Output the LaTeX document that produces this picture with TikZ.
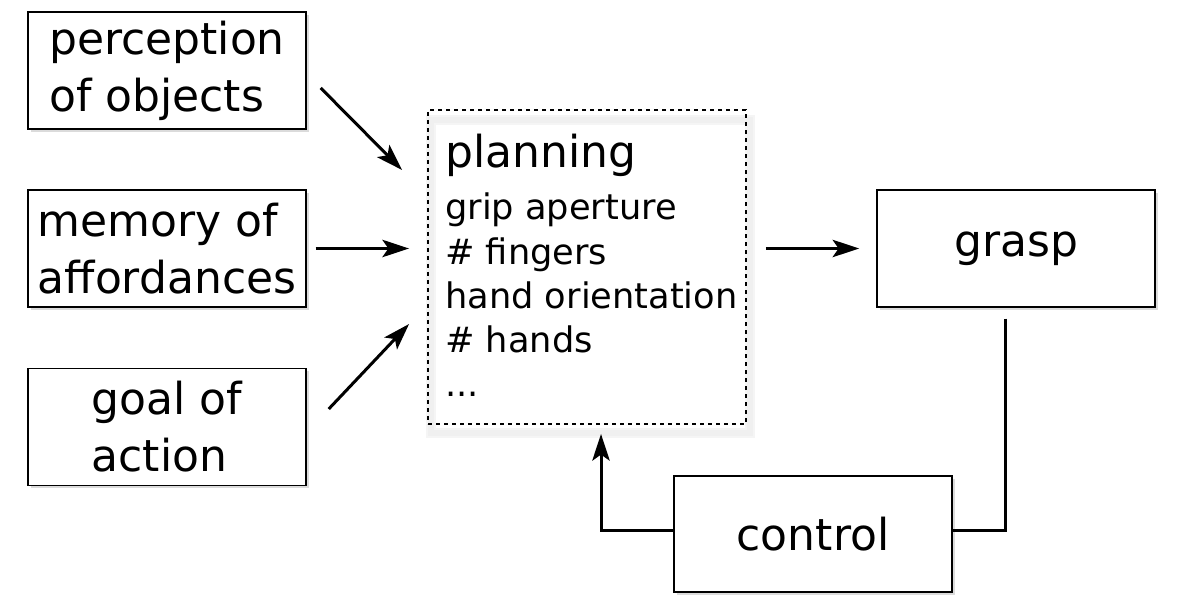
\documentclass[tikz,border=0pt]{standalone}
\usepackage{fontspec}
\setmainfont{DejaVu Sans}
\usetikzlibrary{arrows.meta,calc,shadows}
\begin{document}
\begin{tikzpicture}[x=0.75pt,y=-0.75pt,
  box/.style={draw=black, line width=1.1pt, fill=white, minimum width=208.5pt, minimum height=87.75pt, inner sep=0pt, align=left,
    font=\fontsize{33}{42.75}\selectfont,
    drop shadow={shadow xshift=2pt, shadow yshift=-2pt, fill=black, opacity=0.14}},
  plantitle/.style={anchor=base west, inner sep=0pt, font=\fontsize{33}{40}\selectfont},
  planitem/.style={anchor=base west, inner sep=0pt, font=\fontsize{26.4}{32}\selectfont},
  arr/.style={line width=2.25pt, -{Stealth[length=20pt,width=13pt,inset=4.5pt]}},
  conn/.style={line width=2.25pt},
]
\useasboundingbox (0,0) rectangle (1184,605);

% planning box shadow (soft)
\draw[black!4, line width=8pt] (431,120) rectangle (750,433);
\draw[black!6, line width=4pt] (431,120) rectangle (750,433);
\node[draw=black, line width=1.4pt, dash pattern=on 3pt off 3pt, minimum width=238.5pt, minimum height=235.5pt, inner sep=0pt] (plan) at (587,267) {};

\node[plantitle] (t0) at (445,168) {planning};
\node[planitem] (t1) at (445,220) {grip aperture};
\node[planitem] (t2) at (445,264.5) {\# fingers};
\node[planitem] (t3) at (445,308.5) {hand orientation};
\node[planitem] (t4) at (445,353) {\# hands};
\node[planitem] (t5) at (445,397) {...};

\node[box] (perc) at (167,70.5) {perception\\of objects};
\node[box] (mem) at (167,248.5) {memory of\\affordances};
\node[box] (goal) at (167,427) {goal of\\action};
\node[box] (grasp) at (1016,248.5) {grasp};
\node[box, minimum height=87pt] (control) at (813,534) {control};

\draw[arr] ($(perc.east)+(14,17.5)$) -- ($(plan.west)+(-25,-97)$);
\draw[arr, shorten <=6.75pt, shorten >=13.5pt] (mem.east) -- (plan.west |- mem.east);
\draw[arr] ($(goal.east)+(22,-18)$) -- ($(plan.west)+(-18,57)$);
\draw[arr, shorten <=14.25pt, shorten >=12.75pt] (plan.east |- grasp.west) -- (grasp.west);
\draw[conn] ($(grasp.south)+(-11,11)$) |- ($(control.east)+(0,-4)$);
\draw[arr] ($(control.west)+(0,-4)$) -| ($(plan.south)+(14,9)$);
\end{tikzpicture}
\end{document}
